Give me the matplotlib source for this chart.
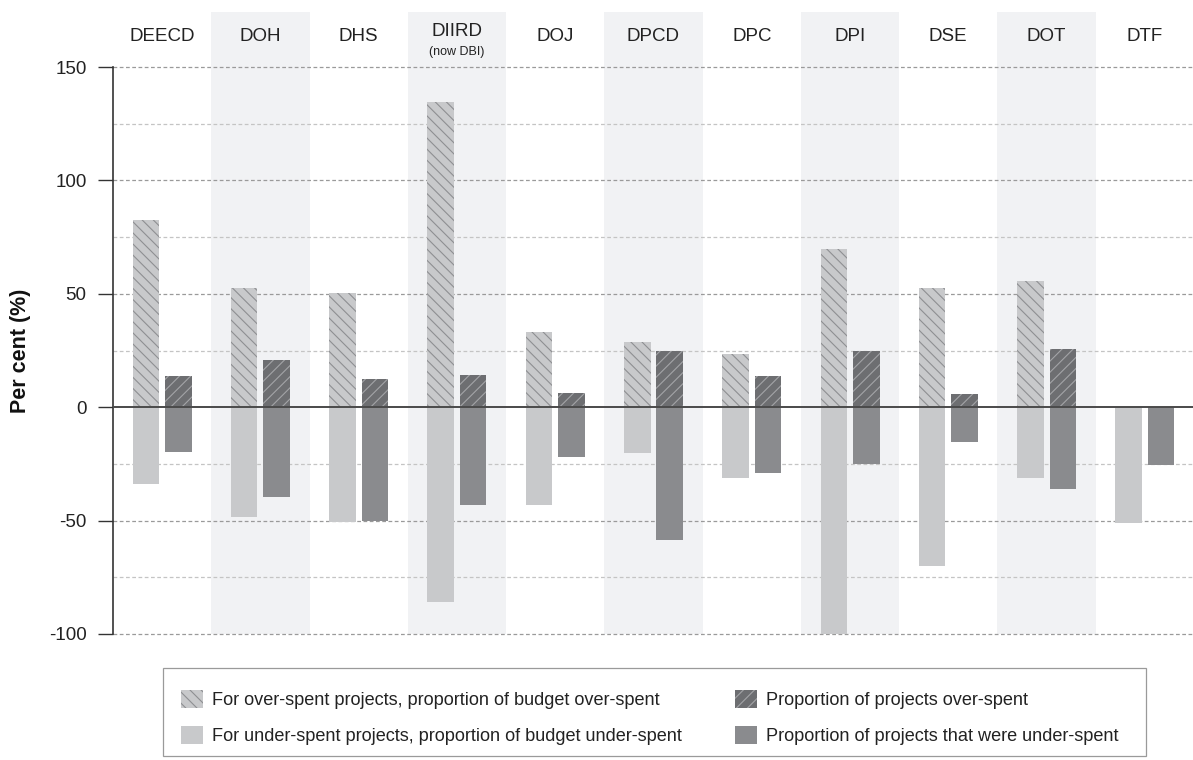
import matplotlib
matplotlib.use("Agg")
from matplotlib import pyplot as plt
from matplotlib.patches import Patch, Rectangle

plt.rcParams['font.family'] = ['Liberation Sans', 'DejaVu Sans']
plt.rcParams['hatch.linewidth'] = 0.8
plt.rcParams['axes.unicode_minus'] = False

departments = ["DEECD", "DOH", "DHS", "DIIRD", "DOJ", "DPCD", "DPC", "DPI", "DSE", "DOT", "DTF"]
budget_over = [82.5, 52.6, 50.4, 134.8, 33.3, 28.8, 23.5, 70.0, 52.4, 55.8, 0]
budget_under = [-33.8, -48.3, -50.7, -85.9, -42.9, -20.0, -31.0, -99.8, -69.9, -31.4, -51.0]
projects_over = [13.8, 20.9, 12.3, 14.2, 6.5, 24.8, 13.9, 25.0, 5.9, 25.6, 0]
projects_under = [-19.8, -39.4, -50.2, -43.2, -21.9, -58.4, -29.0, -25.0, -15.5, -36.0, -25.4]

legend_labels = [
    "For over-spent projects, proportion of budget over-spent",
    "For under-spent projects, proportion of budget under-spent",
    "Proportion of projects over-spent",
    "Proportion of projects that were under-spent",
]

light = "#c8c9cb"
light_hatch = "#8e8f92"
dark_hatched = "#6d6e71"
dark_hatch = "#a3a4a7"
dark = "#8a8b8e"
band = "#f1f2f4"

W, H = 1193, 760
fig = plt.figure(figsize=(W / 100, H / 100), dpi=100)
ax = fig.add_axes([113 / W, 1 - 634 / H, 1080 / W, (634 - 12) / H])

x = list(range(len(departments)))
ax.set_xlim(-0.5, 10.49)
ax.set_ylim(-100, 174.3)

# alternating background bands
for i in x:
    if i % 2 == 1:
        ax.axvspan(i - 0.5, i + 0.5, color=band, lw=0, zorder=0)

# gridlines
for v in [150, 100, 50, -50, -100]:
    ax.axhline(v, color="#9a9a9a", lw=0.9, dashes=(3, 2), zorder=0.5, clip_on=False)
for v in [125, 75, 25, -25, -75]:
    ax.axhline(v, color="#c4c4c4", lw=0.9, dashes=(3, 2), zorder=0.5)

w = 0.27
off = 0.165
xl = [i - off for i in x]
xr = [i + off for i in x]
ax.bar(xl, budget_over, w, color=light, edgecolor=light_hatch, lw=0, hatch="\\\\\\", zorder=2)
ax.bar(xl, budget_under, w, color=light, lw=0, zorder=2)
ax.bar(xr, projects_over, w, color=dark_hatched, edgecolor=dark_hatch, lw=0, hatch="///", zorder=2)
ax.bar(xr, projects_under, w, color=dark, lw=0, zorder=2)

ax.axhline(0, color="#4a4a4a", lw=1.4, zorder=3)

# department labels
for i, d in enumerate(departments):
    if d == "DIIRD":
        ax.text(i, 165.5, d, ha="center", va="center", fontsize=13.5, color="#222")
        ax.text(i, 156.5, "(now DBI)", ha="center", va="center", fontsize=9, color="#222")
    else:
        ax.text(i, 163.5, d, ha="center", va="center", fontsize=13.5, color="#222")

for s in ["top", "right", "bottom"]:
    ax.spines[s].set_visible(False)
ax.spines["left"].set_bounds(-100, 150)
ax.spines["left"].set_color("#333333")
ax.spines["left"].set_linewidth(1.2)
ax.set_xticks([])
ax.set_yticks([-100, -50, 0, 50, 100, 150])
ax.tick_params(axis="y", length=11, width=1, color="#333333", labelsize=13.5,
               labelcolor="#222", pad=8)

fig.text(21 / W, 1 - 351 / H, "Per cent (%)", rotation=90, ha="center", va="center",
         fontsize=15.5, fontweight="bold", color="#111")

# legend
handles = [
    Patch(facecolor=light, edgecolor=light_hatch, lw=0, hatch="\\\\\\"),
    Patch(facecolor=light, lw=0),
    Patch(facecolor=dark_hatched, edgecolor=dark_hatch, lw=0, hatch="///"),
    Patch(facecolor=dark, lw=0),
]
fig.patches.append(Rectangle((163 / W, 1 - 756 / H), (1146 - 163) / W, 88 / H,
                             transform=fig.transFigure, facecolor="white",
                             edgecolor="#9a9a9a", lw=0.9))
opts = dict(loc="center left", frameon=False, fontsize=13.1, handlelength=1.22,
            handleheight=1.16, handletextpad=0.5, labelspacing=0.95,
            borderpad=0, borderaxespad=0, labelcolor="#222")
fig.legend(handles[:2], legend_labels[:2], bbox_to_anchor=(181 / W, 1 - 717.5 / H), **opts)
fig.legend(handles[2:], legend_labels[2:], bbox_to_anchor=(735 / W, 1 - 717.5 / H), **opts)

fig.savefig("out.png", dpi=100)
